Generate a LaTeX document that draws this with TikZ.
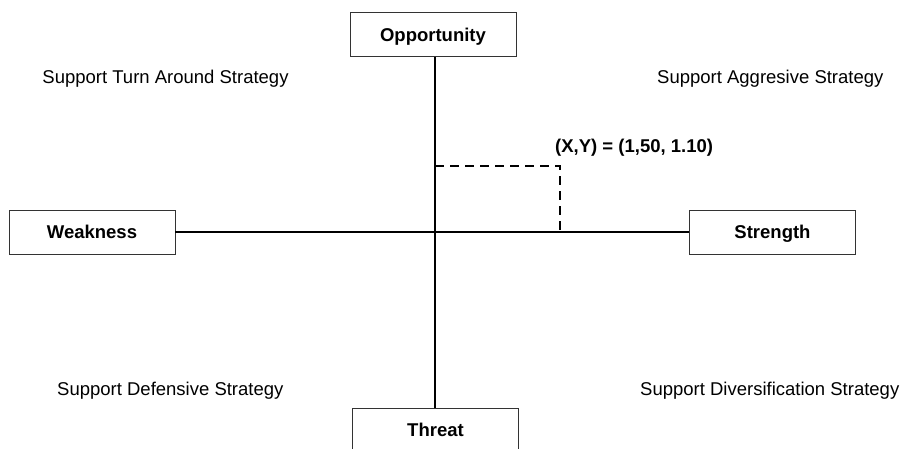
\documentclass[tikz,border=0pt]{standalone}
\usepackage{fontspec}
\setmainfont{Liberation Sans}
\begin{document}
\begin{tikzpicture}[x=1pt,y=-1pt,
  lbox/.style={draw=black!80,line width=0.9pt,minimum width=166pt,minimum height=44pt,inner sep=0pt,text height=13.2pt,text depth=0pt,font=\fontsize{18.5}{20}\selectfont\bfseries},
  qtext/.style={inner sep=0pt,text height=13.2pt,text depth=0pt,font=\fontsize{18.5}{20}\selectfont},
  axis/.style={line width=2.6pt},
  guide/.style={line width=1.3pt,dash pattern=on 9pt off 6pt}]
\clip (0,0) rectangle (904,448);
\node[lbox] (opp) at (433,34.5) {Opportunity};
\node[lbox] (wk) at (92,232) {Weakness};
\node[lbox] (st) at (772.5,232) {Strength};
\node[lbox] (thr) at (435.5,430) {Threat};
\coordinate (O) at (435,232);
\coordinate (P) at (560,166);
\draw[axis] (O |- opp.south) -- (O |- thr.north);
\draw[axis] (wk.east) -- (st.west);
\draw[guide] (O |- P) -- (P) -- (P |- O);
\node[qtext,font=\fontsize{18.5}{20}\selectfont\bfseries,anchor=west] (lab) at (555,146) {(X,Y) = (1,50, 1.10)};
\node[qtext] (q1) at (165.5,77) {Support Turn Around Strategy};
\node[qtext,anchor=west] (q2) at (657,77) {Support Aggresive Strategy};
\node[qtext,anchor=west] (q3) at (57,389) {Support Defensive Strategy};
\node[qtext,anchor=west] (q4) at (640,389) {Support Diversification Strategy};
\end{tikzpicture}
\end{document}
